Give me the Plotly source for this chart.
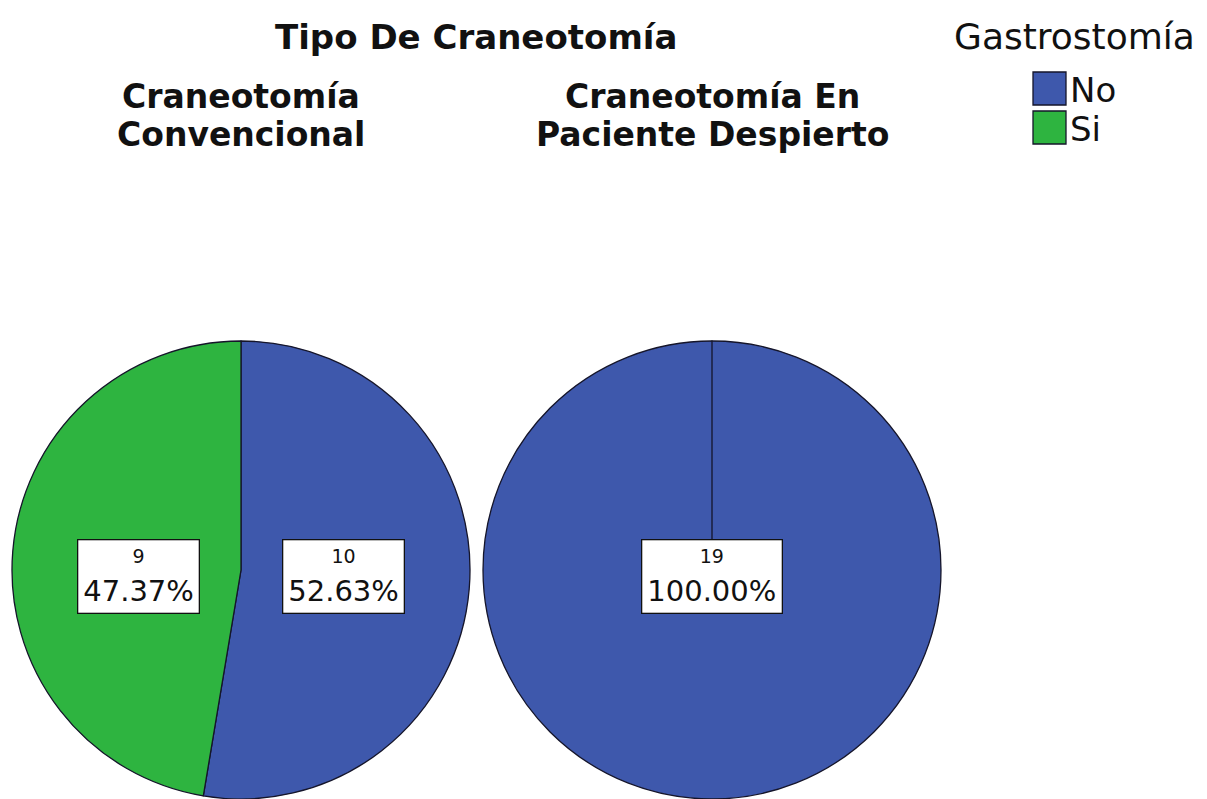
import math
import plotly.graph_objects as go

# data
group_names = ["Craneotomía\nConvencional", "Craneotomía En\nPaciente Despierto"]
categories = ["No", "Si"]
counts_convencional = [10, 9]
counts_despierto = [19, 0]
colors = ["#3E58AC", "#2EB440"]
main_title = "Tipo De Craneotomía"
legend_title = "Gastrostomía"

# the page body has an 8px margin, so the figure is drawn 8px in from the window corner
OFF = 8
W, H = 1207 - 2 * OFF, 799 - OFF
R = 229
centers = [(241, 570), (712, 570)]  # window pixel centre of each pie

def px(x):
    return (x - OFF) / W

def py(y):
    return 1 - (y - OFF) / H

fig = go.Figure()
all_counts = [counts_convencional, counts_despierto]

for (cx, cy), counts in zip(centers, all_counts):
    fig.add_trace(go.Pie(
        labels=categories,
        values=counts,
        sort=False,
        direction="clockwise",
        rotation=0,
        marker=dict(colors=colors, line=dict(color="#15152a", width=1.3)),
        textinfo="none",
        hoverinfo="label+value+percent",
        showlegend=False,
        domain=dict(x=[px(cx - R), px(cx + R)], y=[max(0, py(cy + R)), py(cy - R)]),
    ))

annotations = []

def label(x, y, text, size, bold=False, **kw):
    d = dict(x=px(x), y=py(y), xref="paper", yref="paper",
             text=f"<b>{text}</b>" if bold else text, showarrow=False,
             xanchor="center", yanchor="middle",
             font=dict(family="DejaVu Sans", size=size, color="#111"))
    d.update(kw)
    annotations.append(d)

# slice labels, placed beside the pie centre on the side of each slice
for (cx, cy), counts in zip(centers, all_counts):
    total = sum(counts)
    start = 0.0
    for v in counts:
        if v == 0:
            continue
        frac = v / total
        mid = start + frac * 180  # degrees, clockwise from 12 o'clock
        start += frac * 360
        dist = 0 if frac >= 1 else 0.45 * R
        lx = cx + dist * math.sin(math.radians(mid))
        label(lx, cy + 6, f"<span style='font-size:19px'>{v}</span><br>{frac * 100:.2f}%", 29,
              align="center", bgcolor="white", bordercolor="#111", borderwidth=1.3, borderpad=5)

# titles
label(476, 37, main_title, 34, bold=True)
for (cx, cy), name in zip(centers, group_names):
    for i, line in enumerate(name.split("\n")):
        label(cx, 96 + 38 * i, line, 33, bold=True)

# legend
label(1074, 37, legend_title, 36)
shapes = []
for i, (cat, col) in enumerate(zip(categories, colors)):
    top = 72 + 39 * i
    shapes.append(dict(type="rect", xref="paper", yref="paper",
                       x0=px(1033), x1=px(1066), y0=py(top + 33), y1=py(top),
                       fillcolor=col, line=dict(color="#15152a", width=1.3)))
    label(1068, top + 18, cat, 34, xanchor="left")

fig.update_layout(
    width=W, height=H,
    margin=dict(l=0, r=0, t=0, b=0),
    paper_bgcolor="white",
    plot_bgcolor="white",
    annotations=annotations,
    shapes=shapes,
)

fig.write_html("out.html")
